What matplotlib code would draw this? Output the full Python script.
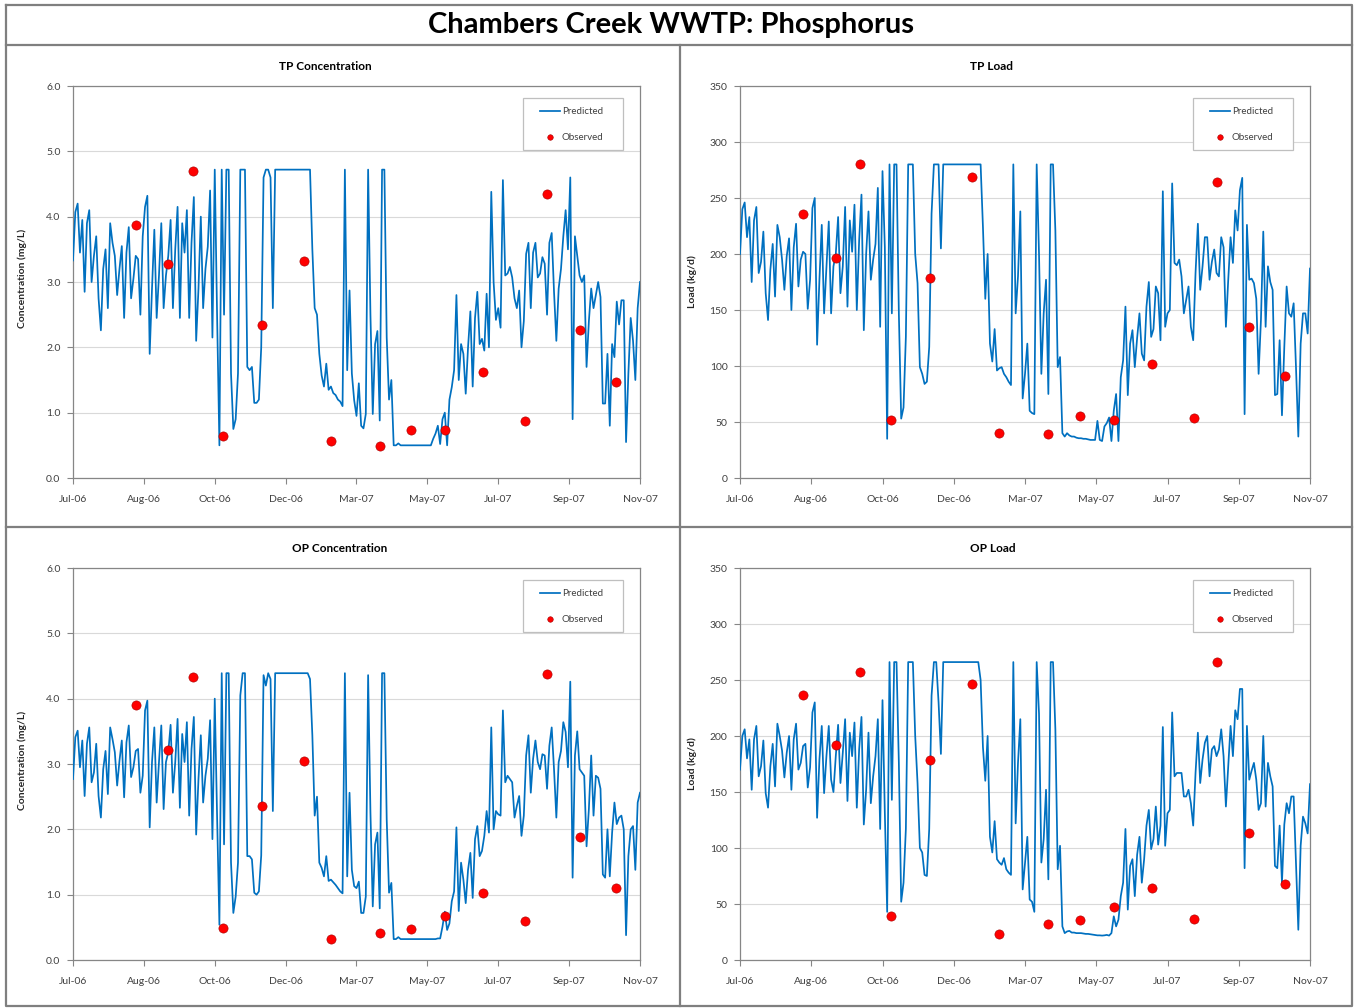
import matplotlib.pyplot as plt
import numpy as np
import pandas as pd
from matplotlib.lines import Line2D
from matplotlib.patches import Rectangle

plt.rcParams['font.family'] = ['Lato', 'DejaVu Sans']

# daily model output read every 2nd day, starting 1 Jul 2006
start = pd.Timestamp('2006-07-01')
pred_days = np.arange(0, 489, 2)

tp_conc = [
    3.33, 4.07, 4.20, 3.45, 3.95, 2.85, 3.90, 4.10, 3.00, 3.40,
    3.70, 2.75, 2.26, 3.20, 3.50, 2.60, 3.90, 3.60, 3.40, 2.80,
    3.20, 3.55, 2.45, 3.45, 3.84, 2.75, 3.05, 3.40, 3.35, 2.50,
    3.70, 4.15, 4.32, 1.90, 2.90, 3.80, 2.45, 3.10, 3.90, 2.60,
    3.10, 3.40, 3.95, 2.60, 3.50, 4.15, 2.45, 3.90, 3.45, 4.10,
    2.45, 3.60, 4.30, 2.10, 2.90, 4.00, 2.60, 3.20, 3.54, 4.40,
    2.15, 4.72, 2.50, 0.50, 4.72, 2.50, 4.72, 4.72, 1.60, 0.75,
    0.90, 1.60, 4.72, 4.72, 4.72, 1.70, 1.65, 1.70, 1.15, 1.15,
    1.20, 2.00, 4.60, 4.72, 4.72, 4.60, 2.60, 4.72, 4.72, 4.72,
    4.72, 4.72, 4.72, 4.72, 4.72, 4.72, 4.72, 4.72, 4.72, 4.72,
    4.72, 4.72, 4.72, 3.50, 2.60, 2.50, 1.90, 1.57, 1.40, 1.75,
    1.35, 1.40, 1.30, 1.27, 1.20, 1.17, 1.10, 4.72, 1.65, 2.87,
    1.60, 1.19, 0.95, 1.45, 0.80, 0.76, 0.98, 4.72, 2.50, 0.98,
    2.05, 2.25, 0.88, 4.72, 4.72, 2.15, 1.20, 1.50, 0.50, 0.50,
    0.53, 0.50, 0.50, 0.50, 0.50, 0.50, 0.50, 0.50, 0.50, 0.50,
    0.50, 0.50, 0.50, 0.50, 0.50, 0.60, 0.68, 0.80, 0.52, 0.90,
    1.00, 0.50, 1.20, 1.39, 1.65, 2.80, 1.50, 2.05, 1.90, 1.29,
    2.00, 2.55, 1.40, 2.45, 2.85, 2.05, 2.13, 1.95, 2.82, 2.00,
    4.38, 3.00, 2.42, 2.60, 2.30, 4.56, 3.10, 3.13, 3.23, 3.07,
    2.75, 2.60, 2.87, 2.00, 2.40, 3.43, 3.60, 2.60, 3.45, 3.60,
    3.07, 3.13, 3.38, 3.28, 2.50, 3.60, 3.75, 2.85, 2.10, 2.90,
    3.20, 3.70, 4.10, 3.50, 4.60, 0.90, 3.70, 3.40, 3.10, 3.00,
    3.10, 1.70, 2.40, 2.90, 2.60, 2.80, 3.00, 2.77, 1.14, 1.14,
    1.90, 0.80, 2.05, 1.85, 2.70, 2.35, 2.72, 2.72, 0.55, 1.60,
    2.45, 2.10, 1.50, 2.60, 3.00,
]

tp_load = [
    200, 240, 246, 215, 233, 175, 230, 242, 183, 193,
    220, 165, 141, 186, 209, 162, 226, 215, 195, 168,
    198, 214, 150, 206, 227, 171, 195, 202, 200, 151,
    177, 241, 250, 119, 177, 226, 147, 189, 229, 147,
    189, 200, 233, 165, 189, 242, 153, 230, 202, 244,
    150, 212, 253, 132, 200, 238, 177, 195, 209, 259,
    135, 274, 206, 35, 280, 147, 280, 280, 147, 53,
    63, 126, 280, 280, 280, 200, 174, 99, 93, 84,
    86, 117, 236, 280, 280, 280, 205, 280, 280, 280,
    280, 280, 280, 280, 280, 280, 280, 280, 280, 280,
    280, 280, 280, 280, 224, 160, 200, 120, 104, 133,
    96, 98, 99, 93, 90, 86, 83, 280, 147, 180,
    238, 71, 93, 120, 60, 58, 57, 280, 200, 93,
    147, 177, 75, 280, 280, 221, 99, 108, 40, 37,
    40, 38, 37, 37, 36, 35.5, 35.5, 35, 35, 34.5,
    34, 34, 34, 51, 34, 33, 46, 49, 54, 33,
    60, 75, 33, 90, 105, 153, 74, 120, 132, 99,
    125, 147, 111, 105, 153, 175, 126, 133, 171, 165,
    123, 256, 135, 147, 150, 263, 192, 190, 195, 180,
    147, 159, 171, 135, 123, 183, 227, 168, 189, 215,
    215, 177, 193, 204, 183, 180, 215, 206, 135, 177,
    215, 192, 239, 221, 257, 268, 57, 226, 177, 178,
    174, 160, 93, 141, 220, 135, 189, 175, 168, 74,
    75, 123, 56, 117, 171, 147, 144, 156, 99, 37,
    120, 147, 147, 129, 187,
]

op_conc = [
    2.77, 3.41, 3.51, 2.95, 3.36, 2.51, 3.31, 3.56, 2.72, 2.87,
    3.31, 2.51, 2.18, 2.92, 3.20, 2.54, 3.56, 3.38, 3.18, 2.67,
    3.05, 3.36, 2.49, 3.33, 3.59, 2.80, 2.95, 3.20, 3.23, 2.56,
    2.82, 3.82, 3.97, 2.03, 3.03, 3.56, 2.41, 3.03, 3.59, 2.31,
    3.03, 3.18, 3.60, 2.56, 3.03, 3.69, 2.33, 3.46, 3.03, 3.64,
    2.21, 3.23, 3.72, 1.92, 2.77, 3.44, 2.41, 2.82, 3.08, 3.67,
    1.85, 4.00, 2.21, 0.54, 4.39, 1.77, 4.39, 4.39, 1.49, 0.72,
    0.97, 1.49, 4.05, 4.39, 4.39, 1.59, 1.59, 1.54, 1.03, 1.00,
    1.05, 1.60, 4.36, 4.20, 4.39, 4.30, 2.28, 4.39, 4.39, 4.39,
    4.39, 4.39, 4.39, 4.39, 4.39, 4.39, 4.39, 4.39, 4.39, 4.39,
    4.39, 4.39, 4.30, 3.44, 2.21, 2.50, 1.49, 1.41, 1.28, 1.59,
    1.21, 1.23, 1.19, 1.15, 1.10, 1.05, 1.02, 4.39, 1.28, 2.56,
    1.38, 1.13, 1.10, 1.20, 0.72, 0.72, 0.97, 4.36, 2.26, 0.82,
    1.77, 1.95, 0.79, 4.39, 4.39, 2.15, 1.03, 1.18, 0.32, 0.32,
    0.35, 0.32, 0.32, 0.32, 0.32, 0.32, 0.32, 0.32, 0.32, 0.32,
    0.32, 0.32, 0.32, 0.32, 0.32, 0.32, 0.32, 0.33, 0.33, 0.51,
    0.74, 0.46, 0.56, 0.90, 1.05, 2.03, 0.75, 1.49, 1.23, 0.87,
    1.38, 1.64, 0.95, 1.85, 2.05, 1.59, 1.67, 1.90, 2.28, 1.95,
    3.56, 2.00, 2.28, 2.23, 2.21, 3.82, 2.72, 2.82, 2.77, 2.72,
    2.18, 2.36, 2.51, 1.90, 2.21, 3.13, 3.44, 2.56, 3.08, 3.36,
    3.03, 2.92, 3.15, 3.13, 2.62, 3.28, 3.56, 2.92, 2.18, 3.03,
    3.20, 3.64, 3.49, 2.95, 4.26, 1.26, 3.13, 3.50, 2.92, 2.87,
    2.82, 1.74, 2.31, 3.13, 2.21, 2.82, 2.79, 2.62, 1.31, 1.26,
    2.00, 1.28, 1.95, 2.41, 2.08, 2.18, 2.21, 2.00, 0.38, 1.59,
    2.00, 2.05, 1.38, 2.41, 2.56,
]

op_load = [
    170, 200, 206, 180, 197, 152, 197, 209, 164, 173,
    196, 149, 136, 173, 193, 155, 211, 200, 187, 163,
    185, 200, 152, 197, 211, 170, 176, 191, 193, 154,
    172, 221, 230, 127, 179, 209, 149, 182, 209, 161,
    150, 182, 210, 158, 185, 215, 142, 203, 182, 212,
    136, 188, 217, 121, 152, 203, 140, 164, 182, 215,
    117, 232, 131, 43, 266, 143, 266, 266, 176, 52,
    69, 117, 266, 266, 266, 200, 158, 100, 96, 76,
    75, 117, 236, 266, 266, 230, 184, 266, 266, 266,
    266, 266, 266, 266, 266, 266, 266, 266, 266, 266,
    266, 266, 266, 250, 190, 160, 200, 110, 96, 124,
    90, 87, 85, 91, 81, 78, 76, 266, 122, 176,
    215, 63, 87, 110, 54, 52, 43, 266, 220, 87,
    108, 152, 72, 266, 266, 206, 81, 102, 30, 24,
    25.5, 26, 24.5, 24.5, 24, 24, 24, 23.6, 23.3, 23.3,
    23, 22.7, 22.4, 22, 22, 21.8, 22, 22.4, 21.8, 24,
    39, 30, 36, 57, 69, 117, 45, 84, 90, 57,
    94, 110, 69, 90, 120, 134, 99, 108, 137, 103,
    120, 208, 102, 131, 134, 221, 164, 167, 167, 167,
    146, 146, 152, 140, 120, 167, 203, 158, 179, 194,
    200, 164, 188, 191, 182, 188, 206, 182, 137, 173,
    209, 182, 223, 215, 242, 242, 82, 209, 161, 169,
    176, 161, 134, 140, 200, 137, 176, 164, 155, 84,
    82, 120, 69, 121, 140, 131, 146, 146, 87, 27,
    102, 128, 122, 113, 157,
]

# grab samples (days after 1 Jul 2006)
obs_days = [54, 82, 103, 129, 163, 199, 222, 264, 291, 320, 353, 389, 408, 436, 467]
tp_conc_obs = [3.88, 3.27, 4.70, 0.65, 2.34, 3.32, 0.56, 0.49, 0.74, 0.74, 1.62, 0.88, 4.35, 2.26, 1.47]
tp_load_obs = [236, 196, 280, 52, 179, 269, 40.5, 39, 55, 52, 102, 54, 264, 135, 91.5]
op_conc_obs = [3.90, 3.21, 4.33, 0.49, 2.35, 3.04, 0.32, 0.41, 0.48, 0.67, 1.02, 0.59, 4.38, 1.89, 1.10]
op_load_obs = [237, 192, 257, 39, 179, 246, 23, 32, 35.5, 47, 64, 36.5, 266, 113, 68]

pred_dates = start + pd.to_timedelta(pred_days, unit='D')
obs_dates = start + pd.to_timedelta(obs_days, unit='D')
tick_dates = [start + pd.Timedelta(days=61 * k) for k in range(9)]
tick_labels = [d.strftime('%b-%y') for d in tick_dates]

W, H = 1356, 1008
fig = plt.figure(figsize=(W / 100, H / 100), dpi=100)

def fx(px):
    return px / W

def fy(py):
    return 1 - py / H

blue = '#0070C0'
grey = '#868686'

panels = [
    # title, pred, obs, ylabel, ymax, ystep, fmt, axes box (px), title x, ylabel x, ylabel shift
    ('TP Concentration', tp_conc, tp_conc_obs, 'Concentration (mg/L)', 6, 1, '{:.1f}',
     (73, 86, 640, 478), 325, 22, -4),
    ('TP Load', tp_load, tp_load_obs, 'Load (kg/d)', 350, 50, '{:.0f}',
     (740, 86, 1310, 478), 992, 692, 0),
    ('OP Concentration', op_conc, op_conc_obs, 'Concentration (mg/L)', 6, 1, '{:.1f}',
     (73, 568, 640, 960), 340, 22, -4),
    ('OP Load', op_load, op_load_obs, 'Load (kg/d)', 350, 50, '{:.0f}',
     (740, 568, 1310, 960), 993, 692, 0),
]

for title, pred, obs, ylab, ymax, ystep, fmt, box, tx, lx, ls in panels:
    x0, y0, x1, y1 = box
    aw, ah = x1 - x0, y1 - y0
    ax = fig.add_axes([fx(x0), fy(y1), fx(x1) - fx(x0), fy(y0) - fy(y1)])
    ax.plot(pred_dates, pred, color=blue, lw=1.25, label='Predicted', zorder=3)
    ax.scatter(obs_dates, obs, s=44, color='#FF0000', edgecolor='#A00000', lw=0.4,
               label='Observed', zorder=4)
    ax.set_xlim(tick_dates[0], tick_dates[-1])
    ax.set_ylim(0, ymax)
    yt = np.arange(0, ymax + ystep / 2, ystep)
    ax.set_yticks(yt)
    ax.set_yticklabels([fmt.format(v) for v in yt])
    ax.set_xticks(tick_dates)
    ax.set_xticklabels(tick_labels)
    ax.grid(axis='y', color='#d9d9d9', lw=0.8)
    ax.set_axisbelow(True)
    for s in ax.spines.values():
        s.set_color(grey)
        s.set_linewidth(0.9)
    ax.tick_params(axis='both', direction='out', length=4, width=0.8, color=grey,
                   labelsize=7.5, labelcolor='#404040', pad=8)
    ax.tick_params(axis='y', pad=5)

    # legend box drawn separately so the inner padding matches the Excel look
    ax.add_patch(Rectangle((1 - 117 / aw, 1 - 64 / ah), 100 / aw, 52 / ah,
                           transform=ax.transAxes, facecolor='white',
                           edgecolor='#bfbfbf', lw=0.9, zorder=5))
    leg = ax.legend(loc='upper left', bbox_to_anchor=(1 - 100 / aw, 1 - 21 / ah),
                    fontsize=7, frameon=False, labelspacing=1.7, handlelength=2.1,
                    handletextpad=0.15, borderpad=0, borderaxespad=0,
                    scatterpoints=1, markerscale=0.6)
    leg.set_zorder(6)
    for t in leg.get_texts():
        t.set_color('#404040')

    fig.text(fx(tx), fy(y0 - 20), title, ha='center', va='center',
             fontsize=8.5, fontweight='bold')
    fig.text(fx(lx), fy((y0 + y1) / 2 + ls), ylab, ha='center', va='center',
             rotation=90, fontsize=7.5, fontweight='bold', color='#262626')

# frame and divider lines
line_kw = dict(color='#7f7f7f', lw=1.6, transform=fig.transFigure)
fig.add_artist(Line2D([fx(6), fx(1352), fx(1352), fx(6), fx(6)],
                      [fy(5), fy(5), fy(1006), fy(1006), fy(5)], **line_kw))
fig.add_artist(Line2D([fx(6), fx(1352)], [fy(45), fy(45)], **line_kw))
fig.add_artist(Line2D([fx(6), fx(1352)], [fy(527), fy(527)], **line_kw))
fig.add_artist(Line2D([fx(680), fx(680)], [fy(45), fy(1006)], **line_kw))

fig.text(fx(671), fy(25), 'Chambers Creek WWTP: Phosphorus', ha='center', va='center',
         fontsize=21, fontweight='bold')

fig.savefig('out.png', dpi=100)
